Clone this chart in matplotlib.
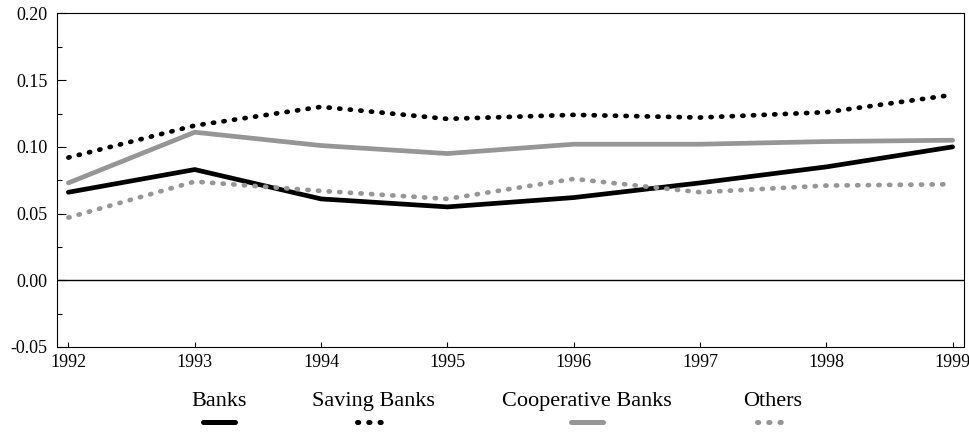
import matplotlib
matplotlib.use("Agg")
import matplotlib.pyplot as plt
from matplotlib.ticker import MultipleLocator, FormatStrFormatter

plt.rcParams['font.family'] = ['Liberation Serif', 'DejaVu Serif']

years = [1992, 1993, 1994, 1995, 1996, 1997, 1998, 1999]
banks = [0.066, 0.083, 0.061, 0.055, 0.062, 0.073, 0.085, 0.100]
saving_banks = [0.092, 0.116, 0.130, 0.121, 0.124, 0.122, 0.126, 0.139]
coop_banks = [0.073, 0.111, 0.101, 0.095, 0.102, 0.102, 0.104, 0.105]
others = [0.047, 0.074, 0.067, 0.061, 0.076, 0.066, 0.071, 0.072]

labels = ["Banks", "Saving Banks", "Cooperative Banks", "Others"]
series = [banks, saving_banks, coop_banks, others]

gray = '#969696'
dotted = (0, (0.25, 2.0))
styles = [
    dict(color='black', linestyle='-'),
    dict(color='black', linestyle=dotted),
    dict(color=gray, linestyle='-'),
    dict(color=gray, linestyle=dotted),
]

fig = plt.figure(figsize=(9.7, 4.32), dpi=100)
ax = fig.add_axes([0.0588, 0.1968, 0.935, 0.772])

for vals, st in zip(series, styles):
    ax.plot(years, vals, lw=3.4, dash_capstyle='round', solid_capstyle='round', **st)

ax.axhline(0, color='black', lw=1.0)
ax.set_xlim(1991.91, 1999.09)
ax.set_ylim(-0.05, 0.20)
ax.set_xticks(years)
ax.yaxis.set_major_locator(MultipleLocator(0.05))
ax.yaxis.set_minor_locator(MultipleLocator(0.025))
ax.yaxis.set_major_formatter(FormatStrFormatter('%.2f'))
ax.tick_params(axis='y', which='major', direction='in', length=6.5, width=0.8, pad=7, labelsize=13)
ax.tick_params(axis='y', which='minor', direction='in', length=3.5, width=0.8)
ax.tick_params(axis='x', direction='in', length=3.5, width=0.8, pad=5, labelsize=13)
for s in ax.spines.values():
    s.set_linewidth(0.8)

# legend: label above a short sample of each line
leg = fig.add_axes([0, 0, 1, 1], zorder=-1)
leg.set_xlim(0, 970)
leg.set_ylim(432, 0)
leg.axis('off')
centers = [219, 373, 587, 773]
for cx, lab, st in zip(centers, labels, styles):
    leg.text(cx, 406, lab, ha='center', va='baseline', fontsize=16)
    leg.plot([cx - 16, cx + 16], [422, 422], lw=3.6,
             dash_capstyle='round', solid_capstyle='round', **st)

fig.savefig("out.png", dpi=100)
